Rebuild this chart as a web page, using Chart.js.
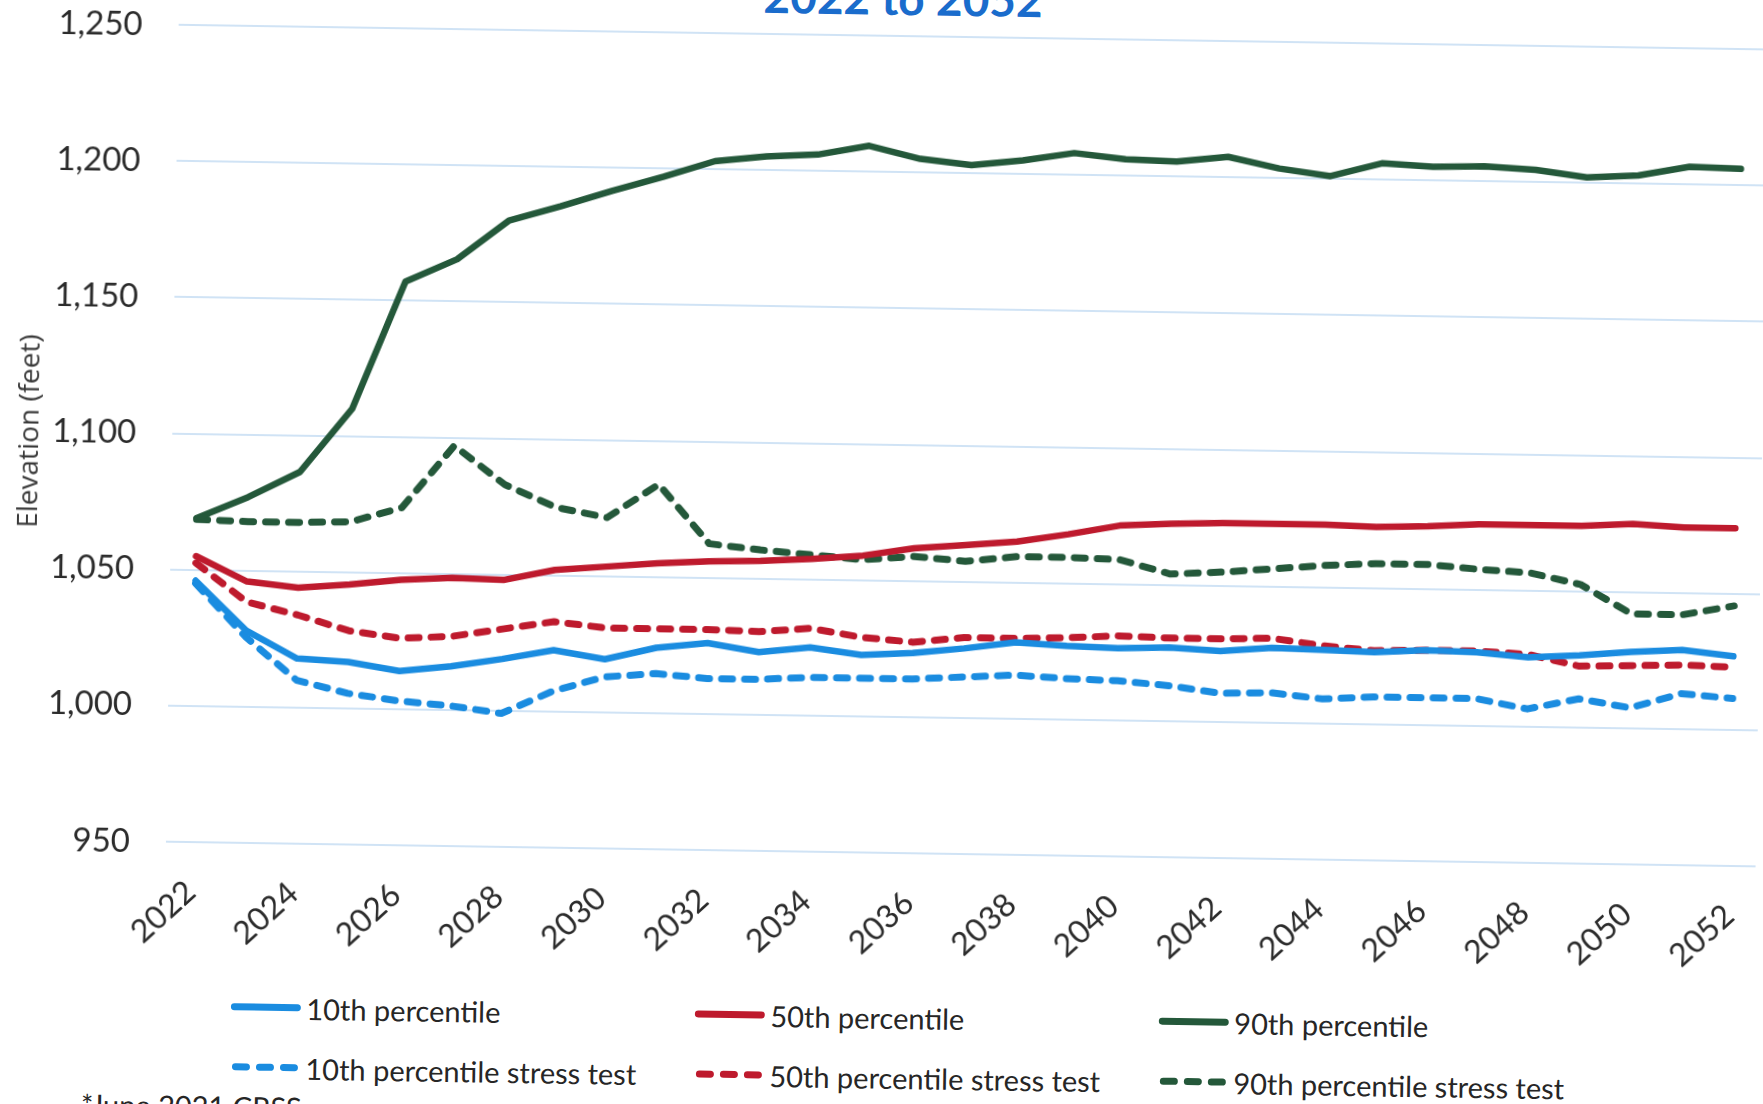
<!DOCTYPE html>
<html>
<head>
<meta charset="utf-8">
<script src="https://cdn.jsdelivr.net/npm/chart.js@4.4.0/dist/chart.umd.min.js"></script>
<style>
  html, body { margin: 0; padding: 0; background: #fff; }
  body { width: 1763px; height: 1104px; overflow: hidden; position: relative; font-family: Lato, sans-serif; }
  /* the scanned original is tilted a little clockwise */
  #page { position: absolute; left: 0; top: 0; width: 1769px; height: 1140px; transform: rotate(0.89deg); transform-origin: 0 0; }
  #title { position: absolute; left: 603px; width: 600px; top: -39px; text-align: center; font: bold 46px/46px Lato, sans-serif; color: #1a6ccc; }
  #chart { position: absolute; left: 0; top: 0; }
  .item { position: absolute; height: 40px; display: flex; align-items: center; font-size: 29px; line-height: 29px; color: #262626; white-space: nowrap; }
  .item span { margin-left: 5px; }
  #note { position: absolute; left: 98px; top: 1088px; font-size: 29px; line-height: 29px; color: #262626; }
</style>
</head>
<body>
<div id="page">
  <div id="title">2022 to 2052</div>
  <canvas id="chart" width="1769" height="960"></canvas>
  <div id="legend"></div>
  <div id="note">*June 2021 CRSS</div>
</div>
<script>
const years = [2022, 2023, 2024, 2025, 2026, 2027, 2028, 2029, 2030, 2031, 2032, 2033, 2034, 2035, 2036, 2037,
  2038, 2039, 2040, 2041, 2042, 2043, 2044, 2045, 2046, 2047, 2048, 2049, 2050, 2051, 2052];
const xTickYears = [2022, 2024, 2026, 2028, 2030, 2032, 2034, 2036, 2038, 2040, 2042, 2044, 2046, 2048, 2050, 2052];
const yTickValues = [950, 1000, 1050, 1100, 1150, 1200, 1250];

// elevation in feet
const p10 = [1046, 1028, 1018, 1017, 1014, 1016, 1019, 1022.5, 1019.5, 1024, 1026, 1023, 1025, 1022.5, 1023.5, 1025.5,
  1028, 1027, 1026.5, 1027, 1026, 1027.5, 1027, 1026.5, 1027.5, 1027, 1025.5, 1026.5, 1028, 1029, 1027];
const p50 = [1055, 1046, 1044, 1045.5, 1047.5, 1048.5, 1048, 1052, 1053.5, 1055, 1056, 1056.5, 1057.5, 1059, 1062, 1063.5,
  1065, 1068, 1071.5, 1072.5, 1073, 1073, 1073, 1072.5, 1073, 1074, 1074, 1074, 1075, 1074, 1074];
const p90 = [1069, 1077, 1086.5, 1110, 1157, 1165.5, 1180, 1185.5, 1191.5, 1197, 1203, 1205, 1206, 1209.5, 1205, 1203,
  1205, 1208, 1206, 1205.5, 1207.5, 1203.5, 1201, 1206, 1205, 1205.5, 1204.5, 1202, 1203, 1206.5, 1206];
const p10Stress = [1045, 1025.5, 1010, 1005.5, 1003, 1001.5, 999, 1007.5, 1013, 1014.5, 1013, 1013, 1014, 1014, 1014, 1015,
  1016, 1015, 1014.5, 1013, 1010.5, 1011, 1009, 1010, 1010, 1010, 1006.5, 1010.5, 1007.5, 1013, 1011.5];
const p50Stress = [1052.5, 1038.5, 1034, 1028.5, 1026, 1027, 1030, 1033, 1031, 1031, 1031, 1030.5, 1032, 1029, 1027.5, 1029.5,
  1029.5, 1030, 1031, 1030.5, 1030.5, 1031, 1028.5, 1027, 1027.5, 1027.5, 1026.5, 1022.5, 1023, 1023.5, 1023];
const p90Stress = [1068.5, 1068, 1068, 1068.5, 1074, 1097, 1083, 1075, 1071.5, 1084, 1062.5, 1060.5, 1059, 1057.5, 1059, 1057.5,
  1059.5, 1059.5, 1059, 1054, 1055, 1056.5, 1058, 1059, 1059, 1057.5, 1056.5, 1052.5, 1042, 1042, 1045.5];

const blue = '#1a8ce0';
const red = '#be1a2d';
const green = '#24583a';

function solid(label, data, color) {
  return { label, data, borderColor: color, backgroundColor: color, borderWidth: 6.5, borderCapStyle: 'round', borderJoinStyle: 'round' };
}
function dashed(label, data, color) {
  return { label, data, borderColor: color, backgroundColor: color, borderWidth: 7, borderDash: [11, 12], borderCapStyle: 'round', borderJoinStyle: 'round' };
}

const chart = new Chart(document.getElementById('chart'), {
  type: 'line',
  data: {
    labels: years,
    datasets: [
      solid('10th percentile', p10, blue),
      solid('50th percentile', p50, red),
      solid('90th percentile', p90, green),
      dashed('10th percentile stress test', p10Stress, blue),
      dashed('50th percentile stress test', p50Stress, red),
      dashed('90th percentile stress test', p90Stress, green)
    ]
  },
  options: {
    responsive: false,
    animation: false,
    devicePixelRatio: 1,
    layout: { autoPadding: false, padding: { top: 22, left: 0, right: 0, bottom: 0 } },
    plugins: { legend: { display: false }, tooltip: { enabled: false } },
    elements: { point: { radius: 0 }, line: { tension: 0 } },
    scales: {
      x: {
        offset: true,
        grid: { display: false },
        border: { display: false },
        ticks: {
          autoSkip: false, maxRotation: 43, minRotation: 43, padding: 23,
          color: '#2b2b2b', font: { family: 'Lato', size: 32 },
          callback: (v, i) => xTickYears.includes(years[i]) ? String(years[i]) : ''
        },
        afterFit: s => { s.height = 121; s.paddingLeft = 0; s.paddingRight = 0; }
      },
      y: {
        min: 950, max: 1250,
        afterBuildTicks: s => { s.ticks = yTickValues.map(v => ({ value: v })); },
        grid: { color: 'rgba(170,204,236,0.55)', lineWidth: 2, drawTicks: false },
        border: { display: false },
        ticks: {
          padding: 36, color: '#2b2b2b', font: { family: 'Lato', size: 33 },
          callback: v => v.toLocaleString('en-US')
        },
        title: {
          display: true, text: 'Elevation (feet)', color: '#3a3a3a',
          font: { family: 'Open Sans', size: 28 }, padding: { top: 20, bottom: 0 }
        },
        afterFit: s => { s.width = 179; s.paddingTop = 0; s.paddingBottom = 0; }
      }
    }
  }
});

// legend: 3 columns, solid lines on the first row, stress tests on the second
const legendCols = [246, 710, 1174];
const legendRows = [1003, 1063];
const legend = document.getElementById('legend');
chart.data.datasets.forEach((ds, i) => {
  const item = document.createElement('div');
  item.className = 'item';
  item.style.left = legendCols[i % 3] + 'px';
  item.style.top = (legendRows[Math.floor(i / 3)] - 20) + 'px';
  const dash = ds.borderDash ? 'stroke-dasharray="11 13"' : '';
  const x1 = ds.borderDash ? 6 : 4, x2 = ds.borderDash ? 65 : 67;
  item.innerHTML = '<svg width="71" height="12"><line x1="' + x1 + '" y1="6" x2="' + x2 + '" y2="6" stroke="' + ds.borderColor +
    '" stroke-width="7" stroke-linecap="round" ' + dash + '/></svg><span>' + ds.label + '</span>';
  legend.appendChild(item);
});
</script>
</body>
</html>
